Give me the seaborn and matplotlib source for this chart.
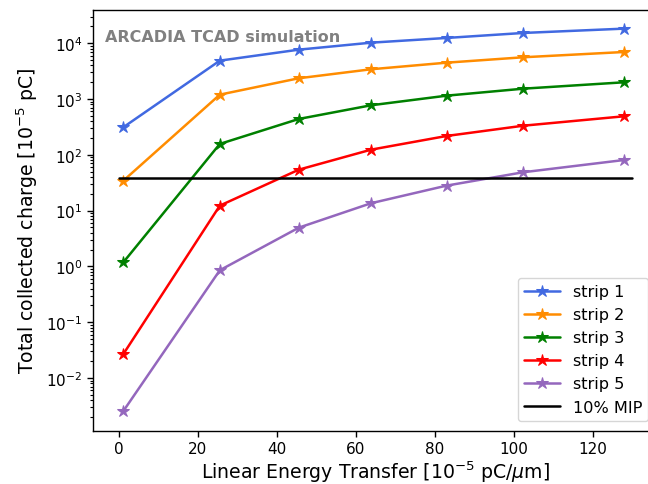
import numpy as np
import pandas as pd
import matplotlib
matplotlib.use("Agg")
import matplotlib.pyplot as plt
import seaborn as sns

# ---- data ----
let_values = [1.2, 25.6, 45.6, 63.9, 83.0, 102.4, 128.0]
strip1 = [313, 4880, 7680, 10250, 12450, 15300, 18300]
strip2 = [34.5, 1200, 2360, 3420, 4490, 5610, 6980]
strip3 = [1.19, 157, 440, 774, 1150, 1535, 2000]
strip4 = [0.027, 12.3, 54.3, 124, 218, 333, 492]
strip5 = [0.00257, 0.855, 4.96, 13.6, 28.1, 48.8, 81]
strip_names = ["strip 1", "strip 2", "strip 3", "strip 4", "strip 5"]
mip_x = [0, 130]
mip_y = [38, 38]
mip_label = "10% MIP"
colors = ["royalblue", "darkorange", "green", "red", "tab:purple"]

sns.set_style("ticks")
plt.rcParams["font.family"] = ["DejaVu Sans"]
plt.rcParams["text.color"] = "black"
plt.rcParams["axes.labelcolor"] = "black"
plt.rcParams["xtick.color"] = "black"
plt.rcParams["ytick.color"] = "black"

fig = plt.figure(figsize=(6.48, 4.85), dpi=100)
ax = fig.add_axes([0.143, 0.110, 1.0155 - 0.143, 0.978 - 0.110])

series = [strip1, strip2, strip3, strip4, strip5]
for name, vals, c in zip(strip_names, series, colors):
    sns.lineplot(x=let_values, y=vals, ax=ax, color=c, marker="*",
                 markersize=9, markeredgecolor=c, linewidth=1.8, label=name)
sns.lineplot(x=mip_x, y=mip_y, ax=ax, color="black", linewidth=1.8, label=mip_label)

ax.set_yscale("log")
ax.set_ylim(10 ** -2.943, 10 ** 4.602)
ax.set_xlim(-6.58, 136.5)
ax.set_xticks([0, 20, 40, 60, 80, 100, 120])
ax.tick_params(axis="both", which="major", labelsize=11, direction="out",
               length=4, width=1, colors="black")
ax.tick_params(axis="y", which="minor", direction="out", length=2, width=0.8,
               colors="black")
for s in ax.spines.values():
    s.set_linewidth(1.0)
    s.set_color("black")

ax.set_xlabel(r"Linear Energy Transfer [$10^{-5}$ pC/$\mu$m]", fontsize=13.6,
              labelpad=2, color="black")
ax.set_ylabel(r"Total collected charge [$10^{-5}$ pC]", fontsize=13.6,
              labelpad=4, color="black")

ax.text(0.022, 0.955, "ARCADIA TCAD simulation", transform=ax.transAxes,
        fontsize=11.5, fontweight="bold", color="gray", va="top", ha="left")

leg = ax.legend(loc="lower right", fontsize=11.6, frameon=True,
                handlelength=2.2, borderaxespad=0.6)
leg.get_frame().set_edgecolor("#cccccc")
for t in leg.get_texts():
    t.set_color("black")

fig.savefig("out.png", dpi=100)
